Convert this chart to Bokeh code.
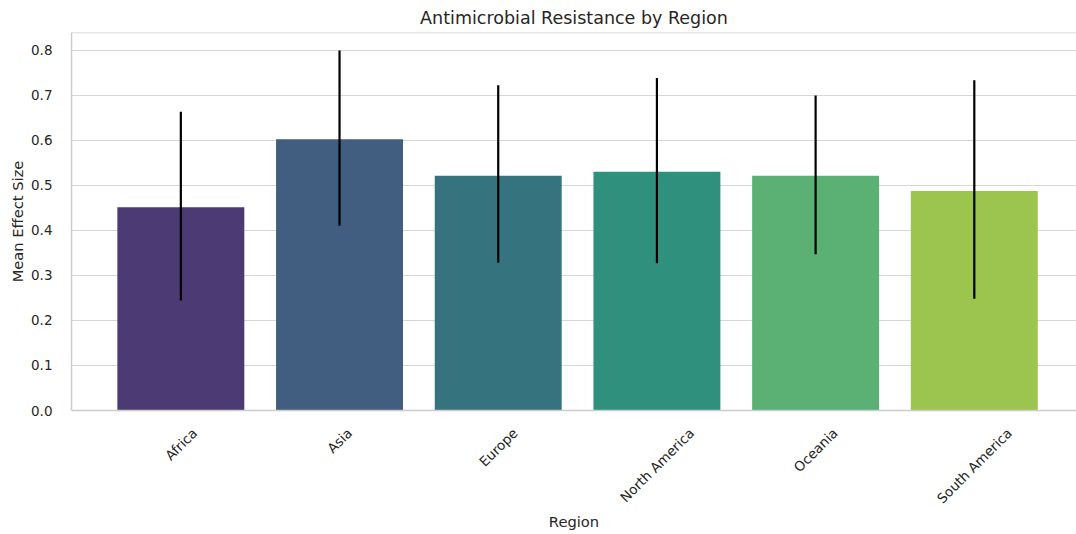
import math
from bokeh.plotting import figure
from bokeh.models import Range1d, FixedTicker, NumeralTickFormatter, Span, ColumnDataSource
from bokeh.embed import file_html
from bokeh.resources import INLINE

# ---- data ----
regions = ["Africa", "Asia", "Europe", "North America", "Oceania", "South America"]
mean_effect = [0.451, 0.602, 0.521, 0.530, 0.521, 0.487]
ci_low = [0.244, 0.410, 0.328, 0.327, 0.347, 0.248]
ci_high = [0.663, 0.799, 0.722, 0.738, 0.699, 0.733]
colors = ["#4b3a73", "#415d80", "#35747f", "#30907e", "#5bb173", "#9bc54f"]
y_ticks = [0.0, 0.1, 0.2, 0.3, 0.4, 0.5, 0.6, 0.7, 0.8]

FONT = "DejaVu Sans"
TXT = "#262626"
TICK_PX = 13.5
X_START, X_END = -0.689, 5.644
FIG_W, FIG_H = 1076, 532
BORDER_L = 71

# DejaVu Sans advance widths (units per 2048 em), used to centre rotated labels
_adv = {"A": 1401, "E": 1294, "N": 1532, "O": 1612, "S": 1300, "a": 1255, "c": 1126,
        "e": 1260, "f": 721, "h": 1298, "i": 569, "m": 1995, "n": 1298, "o": 1253,
        "p": 1300, "r": 842, "s": 1067, "t": 803, "u": 1298, " ": 651}


def text_len(s, px):
    return sum(_adv.get(ch, 1250) for ch in s) * px / 2048.0


idx = list(range(len(regions)))
px_per_unit = (FIG_W - BORDER_L) / (X_END - X_START)

p = figure(width=FIG_W, height=FIG_H, output_backend="svg", toolbar_location=None,
           x_range=Range1d(X_START, X_END), y_range=Range1d(0, 0.839),
           min_border_left=BORDER_L, min_border_right=0, min_border_top=24,
           min_border_bottom=5)

p.title.text = "Antimicrobial Resistance by Region"
p.title.text_font = FONT
p.title.text_font_size = "17.5px"
p.title.text_font_style = "normal"
p.title.text_color = TXT
p.title.align = "center"
p.title.offset = 5

src = ColumnDataSource(dict(x=idx, top=mean_effect, lo=ci_low, hi=ci_high,
                            color=colors, region=regions))
p.vbar(x="x", top="top", width=0.8, bottom=0, fill_color="color",
       line_color=None, source=src)
p.segment(x0="x", y0="lo", x1="x", y1="hi", line_color="black",
          line_width=2.2, source=src)

# axes styling
p.outline_line_color = None
p.xgrid.grid_line_color = None
p.ygrid.grid_line_color = "#d6d6d6"
p.ygrid.grid_line_width = 1.2
p.ygrid.ticker = FixedTicker(ticks=y_ticks)

p.yaxis.ticker = FixedTicker(ticks=y_ticks)
p.yaxis.formatter = NumeralTickFormatter(format="0.0")
p.yaxis.axis_label = "Mean Effect Size"
p.yaxis.axis_label_text_font = FONT
p.yaxis.axis_label_text_font_size = "14.7px"
p.yaxis.axis_label_text_font_style = "normal"
p.yaxis.axis_label_text_color = TXT
p.yaxis.axis_label_standoff = 2
p.yaxis.major_label_text_font = FONT
p.yaxis.major_label_text_font_size = f"{TICK_PX}px"
p.yaxis.major_label_text_color = TXT
p.yaxis.major_label_standoff = 19
for ax in (p.xaxis, p.yaxis):
    ax.major_tick_out = 0
    ax.major_tick_in = 0
    ax.minor_tick_out = 0
    ax.minor_tick_in = 0
    ax.axis_line_color = "#cccccc"
    ax.axis_line_width = 1.5

# x labels: rotated 45 deg; Bokeh anchors a rotated label at its right end,
# so the (invisible) tick is moved right so that each label is centred on its bar
tick_pos = [round(i + text_len(r, TICK_PX) * math.cos(math.pi / 4) / 2 / px_per_unit, 5)
            for i, r in zip(idx, regions)]
p.xaxis.ticker = FixedTicker(ticks=tick_pos)
p.xaxis.major_label_overrides = {t: r for t, r in zip(tick_pos, regions)}
p.xaxis.major_label_orientation = math.pi / 4
p.xaxis.major_label_text_font = FONT
p.xaxis.major_label_text_font_size = f"{TICK_PX}px"
p.xaxis.major_label_text_color = TXT
p.xaxis.major_label_standoff = 20
p.xaxis.axis_label = "Region"
p.xaxis.axis_label_text_font = FONT
p.xaxis.axis_label_text_font_size = "14.7px"
p.xaxis.axis_label_text_font_style = "normal"
p.xaxis.axis_label_text_color = TXT
p.xaxis.axis_label_standoff = -2

# top spine
p.add_layout(Span(location=0.839, dimension="width", line_color="#cccccc",
                  line_width=1.5))

open("out.html", "w").write(file_html(p, INLINE))
